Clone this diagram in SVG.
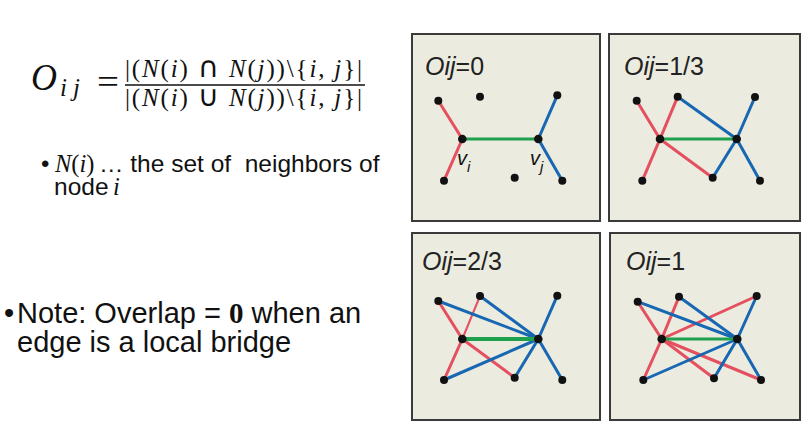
<svg xmlns="http://www.w3.org/2000/svg" width="811" height="430" viewBox="0 0 811 430">
<style>
.bg{fill:#ffffff}
.panel{fill:#ebebdf;stroke:#3a3a3a;stroke-width:2}
.r{stroke:#e4505f;stroke-width:3;stroke-linecap:round;fill:none}
.rt{stroke:#e4505f;stroke-width:2;stroke-linecap:round;fill:none}
.b{stroke:#1767b3;stroke-width:3;stroke-linecap:round;fill:none}
.g{stroke:#1fa04f;stroke-width:3;fill:none}
.gt{stroke:#1fa04f;stroke-width:4;fill:none}
.dot{fill:#111111}
.title{font-family:"Liberation Sans",Arial,sans-serif;font-size:25px;fill:#222222}
.it{font-style:italic}
.lbl{font-family:"Liberation Sans",Arial,sans-serif;font-style:italic;fill:#111111}
.math{font-family:"Liberation Serif","DejaVu Serif",serif;fill:#111111}
.op{font-family:"DejaVu Sans",sans-serif;font-style:normal}
.body{font-family:"Liberation Sans",Arial,sans-serif;fill:#111111;white-space:pre}
</style>
<rect class="bg" x="0" y="0" width="811" height="430"/>

<g id="formula">
  <text class="math" x="31" y="90" font-size="38" font-style="italic" textLength="26" lengthAdjust="spacingAndGlyphs">O</text>
  <text class="math" x="60" y="96" font-size="25" font-style="italic" textLength="20" lengthAdjust="spacing">ij</text>
  <text class="math" x="97" y="93" font-size="34" textLength="22" lengthAdjust="spacingAndGlyphs">=</text>
  <text class="math" x="125" y="77" font-size="25" textLength="237" lengthAdjust="spacing">|(<tspan font-style="italic">N</tspan>(<tspan font-style="italic">i</tspan>) <tspan class="op" font-size="29">∩</tspan> <tspan font-style="italic">N</tspan>(<tspan font-style="italic">j</tspan>))\{<tspan font-style="italic">i</tspan>, <tspan font-style="italic">j</tspan>}|</text>
  <line x1="125" y1="85" x2="365" y2="85" stroke="#111111" stroke-width="1.3"/>
  <text class="math" x="125" y="106" font-size="25" textLength="237" lengthAdjust="spacing">|(<tspan font-style="italic">N</tspan>(<tspan font-style="italic">i</tspan>) <tspan class="op" font-size="29">∪</tspan> <tspan font-style="italic">N</tspan>(<tspan font-style="italic">j</tspan>))\{<tspan font-style="italic">i</tspan>, <tspan font-style="italic">j</tspan>}|</text>
</g>

<g id="bullet-neighbors">
  <text class="body" x="41" y="172" font-size="24">•</text>
  <text class="math" x="55" y="172" font-size="24.5"><tspan font-style="italic">N</tspan>(<tspan font-style="italic">i</tspan>)</text>
  <text class="body" x="99" y="172" font-size="24.5">… the set of  neighbors of</text>
  <text class="body" x="54" y="195" font-size="24.5">node</text>
  <text class="math" x="113" y="195" font-size="24.5" font-style="italic">i</text>
</g>

<g id="bullet-note">
  <text class="body" x="4" y="323" font-size="29">•</text>
  <text class="body" x="17" y="323" font-size="29">Note: Overlap = <tspan class="math" font-weight="bold">0</tspan> when an</text>
  <text class="body" x="17" y="352" font-size="29">edge is a local bridge</text>
</g>

<g id="panel-0">
  <rect class="panel" x="412" y="34" width="188" height="187"/>
  <text class="title" x="425" y="75"><tspan class="it">Oij</tspan>=0</text>
  <g class="connectors">
    <line class="r" x1="438.3" y1="100.7" x2="462.3" y2="139"/>
    <line class="r" x1="462.3" y1="139" x2="444" y2="180.7"/>
    <line class="b" x1="538.3" y1="139" x2="557.3" y2="95.3"/>
    <line class="b" x1="538.3" y1="139" x2="562.3" y2="180.7"/>
    <line class="g" x1="462.3" y1="139" x2="538.3" y2="139"/>
  </g>
  <g class="nodes">
    <circle class="dot" cx="438.3" cy="100.7" r="4"/>
    <circle class="dot" cx="480" cy="96.7" r="4"/>
    <circle class="dot" cx="462.3" cy="139" r="4.3"/>
    <circle class="dot" cx="538.3" cy="139" r="4.3"/>
    <circle class="dot" cx="557.3" cy="95.3" r="4"/>
    <circle class="dot" cx="444" cy="180.7" r="4"/>
    <circle class="dot" cx="514.7" cy="177.7" r="4"/>
    <circle class="dot" cx="562.3" cy="180.7" r="4"/>
  </g>
  <text class="lbl" x="457" y="165" font-size="20">v<tspan font-size="15" dy="7">i</tspan></text>
  <text class="lbl" x="530" y="165" font-size="20">v<tspan font-size="15" dy="7">j</tspan></text>
</g>

<g id="panel-1-3">
  <rect class="panel" x="609" y="34" width="191" height="187"/>
  <text class="title" x="624" y="75"><tspan class="it">Oij</tspan>=1/3</text>
  <g class="connectors">
    <line class="r" x1="636.7" y1="100.7" x2="660" y2="139"/>
    <line class="r" x1="660" y1="139" x2="677.7" y2="96.7"/>
    <line class="r" x1="660" y1="139" x2="642.3" y2="180.7"/>
    <line class="r" x1="660" y1="139" x2="712.7" y2="177.7"/>
    <line class="b" x1="677.7" y1="96.7" x2="736.7" y2="139"/>
    <line class="b" x1="736.7" y1="139" x2="755" y2="97"/>
    <line class="b" x1="736.7" y1="139" x2="712.7" y2="177.7"/>
    <line class="b" x1="736.7" y1="139" x2="760" y2="180.7"/>
    <line class="g" x1="660" y1="139" x2="736.7" y2="139"/>
  </g>
  <g class="nodes">
    <circle class="dot" cx="636.7" cy="100.7" r="4"/>
    <circle class="dot" cx="677.7" cy="96.7" r="4"/>
    <circle class="dot" cx="660" cy="139" r="4.3"/>
    <circle class="dot" cx="736.7" cy="139" r="4.3"/>
    <circle class="dot" cx="755" cy="97" r="4"/>
    <circle class="dot" cx="642.3" cy="180.7" r="4"/>
    <circle class="dot" cx="712.7" cy="177.7" r="4"/>
    <circle class="dot" cx="760" cy="180.7" r="4"/>
  </g>
</g>

<g id="panel-2-3">
  <rect class="panel" x="412" y="233" width="188" height="187"/>
  <text class="title" x="422" y="270"><tspan class="it">Oij</tspan>=2/3</text>
  <g class="connectors">
    <line class="r" x1="438.3" y1="301" x2="462.3" y2="339"/>
    <line class="rt" x1="462.3" y1="339" x2="480" y2="296"/>
    <line class="r" x1="462.3" y1="339" x2="444" y2="380"/>
    <line class="r" x1="462.3" y1="339" x2="514.7" y2="377.7"/>
    <line class="b" x1="438.3" y1="301" x2="538.3" y2="339"/>
    <line class="b" x1="480" y1="296" x2="538.3" y2="339"/>
    <line class="b" x1="538.3" y1="339" x2="557.3" y2="295.7"/>
    <line class="b" x1="538.3" y1="339" x2="444" y2="380"/>
    <line class="b" x1="538.3" y1="339" x2="514.7" y2="377.7"/>
    <line class="b" x1="538.3" y1="339" x2="562.3" y2="380"/>
    <line class="gt" x1="462.3" y1="339" x2="538.3" y2="339"/>
  </g>
  <g class="nodes">
    <circle class="dot" cx="438.3" cy="301" r="4"/>
    <circle class="dot" cx="480" cy="296" r="4"/>
    <circle class="dot" cx="462.3" cy="339" r="4.3"/>
    <circle class="dot" cx="538.3" cy="339" r="4.3"/>
    <circle class="dot" cx="557.3" cy="295.7" r="4"/>
    <circle class="dot" cx="444" cy="380" r="4"/>
    <circle class="dot" cx="514.7" cy="377.7" r="4"/>
    <circle class="dot" cx="562.3" cy="380" r="4"/>
  </g>
</g>

<g id="panel-1">
  <rect class="panel" x="610" y="233" width="190" height="187"/>
  <text class="title" x="626" y="270"><tspan class="it">Oij</tspan>=1</text>
  <g class="connectors">
    <line class="r" x1="637.7" y1="301.7" x2="661.7" y2="339"/>
    <line class="r" x1="661.7" y1="339" x2="679" y2="296.7"/>
    <line class="r" x1="661.7" y1="339" x2="756.7" y2="296"/>
    <line class="r" x1="661.7" y1="339" x2="643.3" y2="380"/>
    <line class="r" x1="661.7" y1="339" x2="714" y2="378.3"/>
    <line class="r" x1="661.7" y1="339" x2="761" y2="380"/>
    <line class="b" x1="637.7" y1="301.7" x2="737.3" y2="339"/>
    <line class="b" x1="679" y1="296.7" x2="737.3" y2="339"/>
    <line class="b" x1="756.7" y1="296" x2="737.3" y2="339"/>
    <line class="b" x1="643.3" y1="380" x2="737.3" y2="339"/>
    <line class="b" x1="714" y1="378.3" x2="737.3" y2="339"/>
    <line class="b" x1="761" y1="380" x2="737.3" y2="339"/>
    <line class="g" x1="661.7" y1="339" x2="737.3" y2="339"/>
  </g>
  <g class="nodes">
    <circle class="dot" cx="637.7" cy="301.7" r="4"/>
    <circle class="dot" cx="679" cy="296.7" r="4"/>
    <circle class="dot" cx="661.7" cy="339" r="4.3"/>
    <circle class="dot" cx="737.3" cy="339" r="4.3"/>
    <circle class="dot" cx="756.7" cy="296" r="4"/>
    <circle class="dot" cx="643.3" cy="380" r="4"/>
    <circle class="dot" cx="714" cy="378.3" r="4"/>
    <circle class="dot" cx="761" cy="380" r="4"/>
  </g>
</g>
</svg>
